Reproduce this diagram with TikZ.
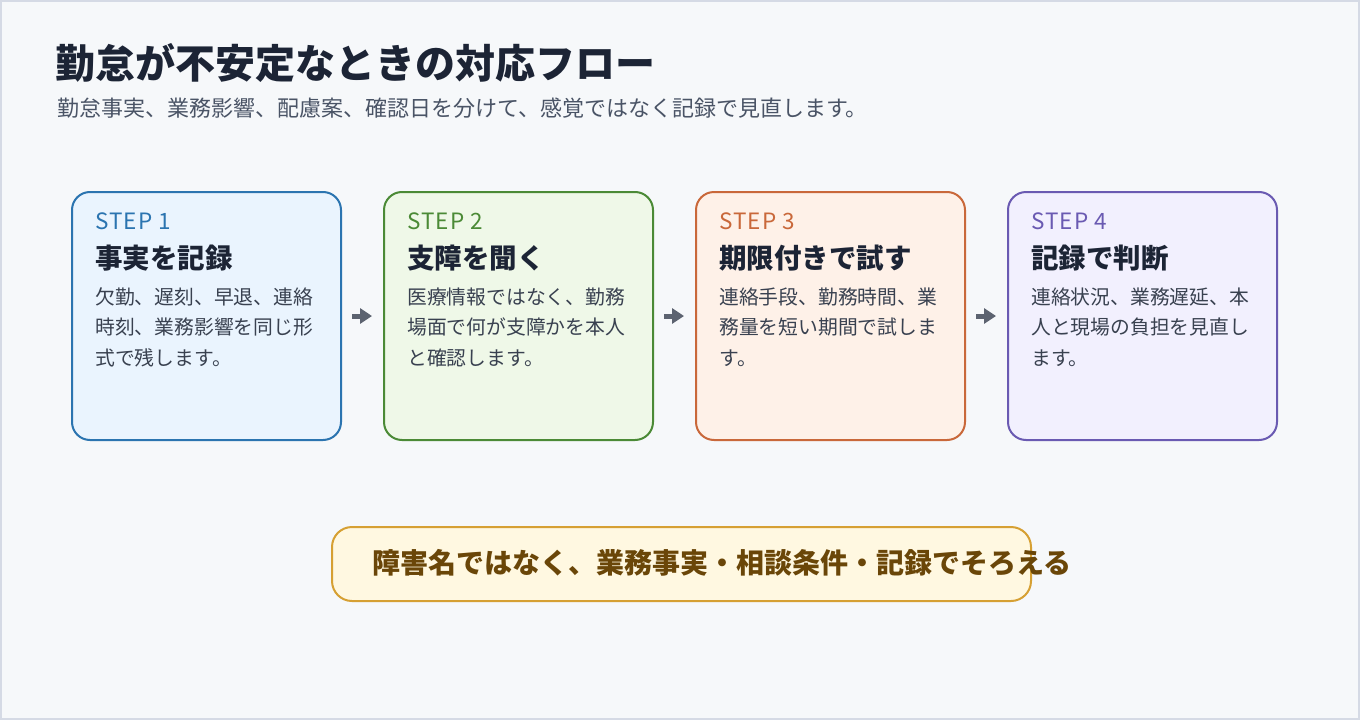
\documentclass[tikz,border=0pt]{standalone}
\usepackage{fontspec}
\setmainfont{Noto Sans CJK JP}
\newfontfamily\steplatin[LetterSpace=5]{Noto Sans CJK JP}
\usetikzlibrary{arrows.meta}
\definecolor{bgc}{HTML}{F6F8FA}
\definecolor{framec}{HTML}{D5DAE5}
\definecolor{titlec}{HTML}{1C2435}
\definecolor{subc}{HTML}{4A5466}
\definecolor{bodyc}{HTML}{394150}
\definecolor{arrc}{HTML}{5C6370}
\definecolor{bA}{HTML}{2B74B0}\definecolor{fA}{HTML}{EAF4FE}
\definecolor{bB}{HTML}{4B8A36}\definecolor{fB}{HTML}{EFF8E8}
\definecolor{bC}{HTML}{C9683A}\definecolor{fC}{HTML}{FEF1E8}
\definecolor{bD}{HTML}{6A5AB2}\definecolor{fD}{HTML}{F2F0FE}
\definecolor{bE}{HTML}{D6A033}\definecolor{fE}{HTML}{FFF8E1}
\definecolor{tE}{HTML}{6A4608}
\tikzset{
  stepbox/.style={draw=#1, line width=2pt, rounded corners=18pt, minimum width=269pt, minimum height=248pt, inner sep=0pt, anchor=north west},
  steplbl/.style={anchor=base west, inner sep=0pt, text=#1, font=\steplatin\fontsize{22.5}{26}\selectfont},
  stephead/.style={anchor=base west, inner sep=0pt, text=titlec, font=\fontsize{27.5}{32}\selectfont\bfseries},
  stepbody/.style={anchor=base west, inner sep=0pt, text=bodyc, align=left, font=\fontsize{19.8}{30.5}\selectfont},
  flowarr/.style={draw=arrc, line width=5pt, -{Triangle[length=12pt,width=15pt]}},
}
\begin{document}
\begin{tikzpicture}[x=1pt,y=-1pt]
\useasboundingbox (0,0) rectangle (1360,720);
\draw[framec, fill=bgc, line width=1.5pt] (1,1) rectangle (1359,719);
\node[anchor=base west, inner sep=0pt, text=titlec, font=\fontsize{40}{44}\selectfont\bfseries] (title) at (55,78) {勤怠が不安定なときの対応フロー};
\node[anchor=base west, inner sep=0pt, text=subc, font=\fontsize{22}{26}\selectfont] (sub) at (57,116) {勤怠事実、業務影響、配慮案、確認日を分けて、感覚ではなく記録で見直します。};

\node[stepbox=bA, fill=fA] (s1) at (71,191) {};
\node[stepbox=bB, fill=fB] (s2) at (383,191) {};
\node[stepbox=bC, fill=fC] (s3) at (695,191) {};
\node[stepbox=bD, fill=fD] (s4) at (1007,191) {};

\node[steplbl=bA] (l1) at (95,229) {STEP 1};
\node[stephead] (h1) at (95,268) {事実を記録};
\node[stepbody] (t1) at (95,365) {欠勤、遅刻、早退、連絡\\時刻、業務影響を同じ形\\式で残します。};

\node[steplbl=bB] (l2) at (407,229) {STEP 2};
\node[stephead] (h2) at (407,268) {支障を聞く};
\node[stepbody] (t2) at (407,365) {医療情報ではなく、勤務\\場面で何が支障かを本人\\と確認します。};

\node[steplbl=bC] (l3) at (719,229) {STEP 3};
\node[stephead] (h3) at (719,268) {期限付きで試す};
\node[stepbody] (t3) at (719,365) {連絡手段、勤務時間、業\\務量を短い期間で試しま\\す。};

\node[steplbl=bD] (l4) at (1031,229) {STEP 4};
\node[stephead] (h4) at (1031,268) {記録で判断};
\node[stepbody] (t4) at (1031,365) {連絡状況、業務遅延、本\\人と現場の負担を見直し\\ます。};

\draw[flowarr] ([xshift=10pt]s1.east) -- ([xshift=-11pt]s2.west);
\draw[flowarr] ([xshift=10pt]s2.east) -- ([xshift=-11pt]s3.west);
\draw[flowarr] ([xshift=10pt]s3.east) -- ([xshift=-11pt]s4.west);

\node[draw=bE, fill=fE, line width=2pt, rounded corners=20pt, minimum width=699pt, minimum height=74pt, inner sep=0pt, anchor=north west] (note) at (331,526) {};
\node[anchor=base west, inner sep=0pt, text=tE, font=\fontsize{28}{32}\selectfont\bfseries] (notet) at (372,573) {障害名ではなく、業務事実・相談条件・記録でそろえる};
\end{tikzpicture}
\end{document}
